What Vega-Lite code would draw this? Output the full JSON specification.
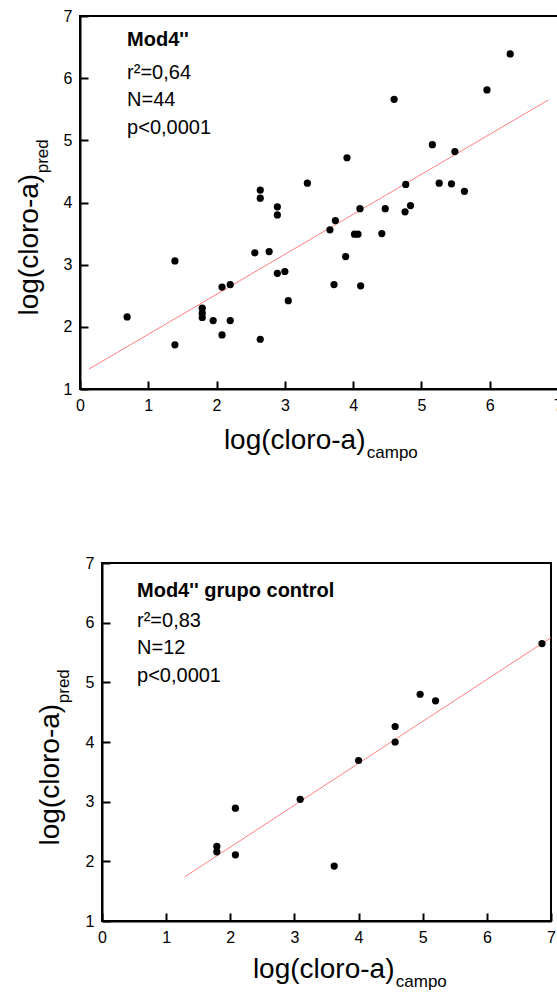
{
  "$schema": "https://vega.github.io/schema/vega-lite/v6.json",
  "padding": {"left": 15, "top": 8, "right": 0, "bottom": 0},
  "spacing": 93,
  "config": {
    "view": {"stroke": null},
    "font": "Liberation Sans",
    "axis": {
      "grid": false,
      "domainColor": "black",
      "domainWidth": 2,
      "tickColor": "black",
      "tickWidth": 2,
      "tickSize": -8,
      "labelColor": "black",
      "labelFontSize": 16,
      "labelFont": "Liberation Sans",
      "labelFlush": false,
      "labelPadding": 16,
      "format": "d",
      "titleFont": "Liberation Sans",
      "titleFontSize": 28,
      "titleFontWeight": "normal",
      "titleColor": "black"
    }
  },
  "datasets": {
    "top": [
      {"campo": 0.69, "pred": 2.16}, {"campo": 1.39, "pred": 3.06}, {"campo": 1.39, "pred": 1.71},
      {"campo": 1.79, "pred": 2.30}, {"campo": 1.79, "pred": 2.22}, {"campo": 1.79, "pred": 2.15},
      {"campo": 1.95, "pred": 2.10}, {"campo": 2.08, "pred": 2.64}, {"campo": 2.08, "pred": 1.87},
      {"campo": 2.20, "pred": 2.68}, {"campo": 2.20, "pred": 2.10}, {"campo": 2.56, "pred": 3.19},
      {"campo": 2.64, "pred": 1.80}, {"campo": 2.64, "pred": 4.20}, {"campo": 2.64, "pred": 4.07},
      {"campo": 2.77, "pred": 3.21}, {"campo": 2.89, "pred": 2.86}, {"campo": 3.00, "pred": 2.89},
      {"campo": 3.05, "pred": 2.42}, {"campo": 2.89, "pred": 3.80}, {"campo": 2.89, "pred": 3.93},
      {"campo": 3.33, "pred": 4.31}, {"campo": 3.66, "pred": 3.56}, {"campo": 3.74, "pred": 3.71},
      {"campo": 3.72, "pred": 2.68}, {"campo": 3.89, "pred": 3.13}, {"campo": 4.02, "pred": 3.49},
      {"campo": 4.07, "pred": 3.49}, {"campo": 4.10, "pred": 3.90}, {"campo": 4.11, "pred": 2.66},
      {"campo": 4.42, "pred": 3.50}, {"campo": 4.47, "pred": 3.90}, {"campo": 4.76, "pred": 3.85},
      {"campo": 4.84, "pred": 3.95}, {"campo": 6.30, "pred": 6.39}, {"campo": 5.96, "pred": 5.81},
      {"campo": 4.60, "pred": 5.66}, {"campo": 5.16, "pred": 4.93}, {"campo": 5.49, "pred": 4.82},
      {"campo": 3.91, "pred": 4.72}, {"campo": 4.77, "pred": 4.29}, {"campo": 5.26, "pred": 4.31},
      {"campo": 5.44, "pred": 4.30}, {"campo": 5.63, "pred": 4.18}
    ],
    "topFit": [
      {"campo": 0.13, "pred": 1.32},
      {"campo": 6.86, "pred": 5.65}
    ],
    "bottom": [
      {"campo": 1.79, "pred": 2.25}, {"campo": 1.79, "pred": 2.16}, {"campo": 2.08, "pred": 2.89},
      {"campo": 2.08, "pred": 2.11}, {"campo": 3.09, "pred": 3.04}, {"campo": 3.62, "pred": 1.92},
      {"campo": 4.00, "pred": 3.69}, {"campo": 4.57, "pred": 4.00}, {"campo": 4.57, "pred": 4.26},
      {"campo": 4.96, "pred": 4.80}, {"campo": 5.20, "pred": 4.69}, {"campo": 6.86, "pred": 5.65}
    ],
    "bottomFit": [
      {"campo": 1.29, "pred": 1.74},
      {"campo": 7.0, "pred": 5.75}
    ],
    "one": [{}]
  },
  "vconcat": [
    {
      "width": 478,
      "height": 373,
      "layer": [
        {
          "data": {"name": "one"},
          "mark": {"type": "rect", "fill": "transparent", "stroke": "black", "strokeWidth": 2},
          "encoding": {
            "x": {"datum": 0, "type": "quantitative", "scale": {"domain": [0, 7], "nice": false, "zero": false}},
            "x2": {"datum": 7},
            "y": {"datum": 1, "type": "quantitative", "scale": {"domain": [1, 7], "nice": false, "zero": false}},
            "y2": {"datum": 7}
          }
        },
        {
          "data": {"name": "topFit"},
          "mark": {"type": "line", "color": "#ff8080", "strokeWidth": 1},
          "encoding": {
            "x": {"field": "campo", "type": "quantitative"},
            "y": {"field": "pred", "type": "quantitative"}
          }
        },
        {
          "data": {"name": "top"},
          "mark": {"type": "circle", "size": 52, "color": "black", "opacity": 1},
          "encoding": {
            "x": {
              "field": "campo", "type": "quantitative",
              "scale": {"domain": [0, 7], "nice": false, "zero": false},
              "axis": {
                "values": [0, 1, 2, 3, 4, 5, 6, 7],
                "title": "log(cloro-a)",
                "titleX": 285, "titleY": 59,
                "titleAlign": "right", "titleBaseline": "alphabetic"
              }
            },
            "y": {
              "field": "pred", "type": "quantitative",
              "scale": {"domain": [1, 7], "nice": false, "zero": false},
              "axis": {
                "values": [1, 2, 3, 4, 5, 6, 7],
                "title": "log(cloro-a)",
                "titleX": -43, "titleY": 299,
                "titleAlign": "left", "titleBaseline": "alphabetic", "titleAngle": 270
              }
            }
          }
        },
        {
          "data": {"name": "one"},
          "mark": {"type": "text", "text": "Mod4''", "fontWeight": "bold", "fontSize": 20, "align": "left", "baseline": "alphabetic", "color": "black"},
          "encoding": {"x": {"datum": 0.69}, "y": {"datum": 6.52}}
        },
        {
          "data": {"name": "one"},
          "mark": {"type": "text", "text": ["r²=0,64", "N=44", "p<0,0001"], "lineHeight": 27.5, "fontSize": 20, "align": "left", "baseline": "alphabetic", "color": "black"},
          "encoding": {"x": {"datum": 0.69}, "y": {"datum": 5.99}}
        },
        {
          "data": {"name": "one"},
          "mark": {"type": "text", "text": "campo", "fontSize": 17, "align": "left", "baseline": "alphabetic", "color": "black"},
          "encoding": {"x": {"datum": 4.20}, "y": {"datum": -0.11}}
        },
        {
          "data": {"name": "one"},
          "mark": {"type": "text", "text": "pred", "fontSize": 17, "angle": 270, "align": "left", "baseline": "alphabetic", "color": "black"},
          "encoding": {"x": {"datum": -0.47}, "y": {"datum": 4.47}}
        }
      ]
    },
    {
      "width": 471,
      "height": 358,
      "layer": [
        {
          "data": {"name": "one"},
          "mark": {"type": "rect", "fill": "transparent", "stroke": "black", "strokeWidth": 2},
          "encoding": {
            "x": {"datum": 0, "type": "quantitative", "scale": {"domain": [0, 7], "range": [22, 471], "nice": false, "zero": false}},
            "x2": {"datum": 7},
            "y": {"datum": 1, "type": "quantitative", "scale": {"domain": [1, 7], "nice": false, "zero": false}},
            "y2": {"datum": 7}
          }
        },
        {
          "data": {"name": "bottomFit"},
          "mark": {"type": "line", "color": "#ff8080", "strokeWidth": 1},
          "encoding": {
            "x": {"field": "campo", "type": "quantitative"},
            "y": {"field": "pred", "type": "quantitative"}
          }
        },
        {
          "data": {"name": "bottom"},
          "mark": {"type": "circle", "size": 52, "color": "black", "opacity": 1},
          "encoding": {
            "x": {
              "field": "campo", "type": "quantitative",
              "scale": {"domain": [0, 7], "range": [22, 471], "nice": false, "zero": false},
              "axis": {
                "values": [0, 1, 2, 3, 4, 5, 6, 7],
                "title": "log(cloro-a)",
                "titleX": 314, "titleY": 56,
                "titleAlign": "right", "titleBaseline": "alphabetic"
              }
            },
            "y": {
              "field": "pred", "type": "quantitative",
              "scale": {"domain": [1, 7], "nice": false, "zero": false},
              "axis": {
                "values": [1, 2, 3, 4, 5, 6, 7],
                "offset": -22,
                "title": "log(cloro-a)",
                "titleX": -44, "titleY": 282,
                "titleAlign": "left", "titleBaseline": "alphabetic", "titleAngle": 270
              }
            }
          }
        },
        {
          "data": {"name": "one"},
          "mark": {"type": "text", "text": "Mod4'' grupo control", "fontWeight": "bold", "fontSize": 20, "align": "left", "baseline": "alphabetic", "color": "black"},
          "encoding": {"x": {"datum": 0.546}, "y": {"datum": 6.43}}
        },
        {
          "data": {"name": "one"},
          "mark": {"type": "text", "text": ["r²=0,83", "N=12", "p<0,0001"], "lineHeight": 27.5, "fontSize": 20, "align": "left", "baseline": "alphabetic", "color": "black"},
          "encoding": {"x": {"datum": 0.546}, "y": {"datum": 5.93}}
        },
        {
          "data": {"name": "one"},
          "mark": {"type": "text", "text": "campo", "fontSize": 17, "align": "left", "baseline": "alphabetic", "color": "black"},
          "encoding": {"x": {"datum": 4.58}, "y": {"datum": -0.106}}
        },
        {
          "data": {"name": "one"},
          "mark": {"type": "text", "text": "pred", "fontSize": 17, "angle": 270, "align": "left", "baseline": "alphabetic", "color": "black"},
          "encoding": {"x": {"datum": -0.51}, "y": {"datum": 4.65}}
        }
      ]
    }
  ]
}
